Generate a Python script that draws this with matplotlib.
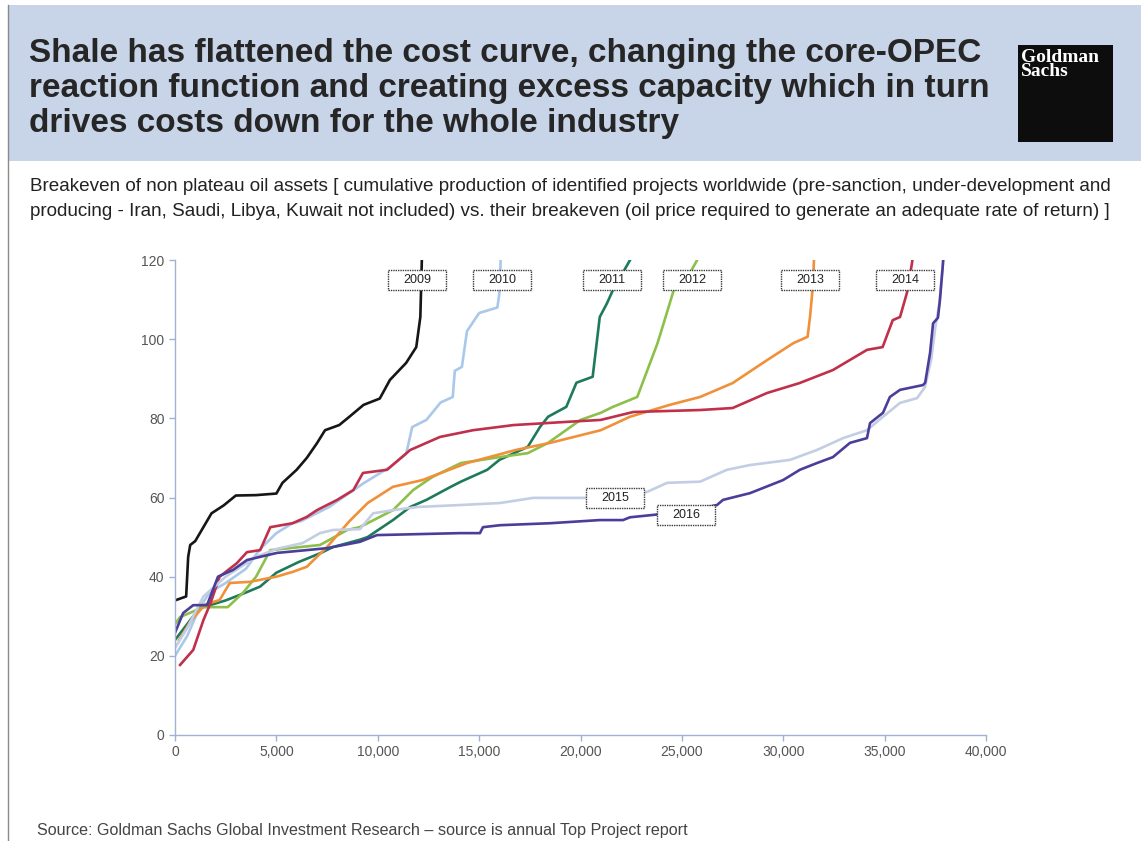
import matplotlib
matplotlib.use("Agg")
import matplotlib.pyplot as plt
from matplotlib.patches import Rectangle
from matplotlib.ticker import FuncFormatter

# cumulative production (x) vs breakeven (y)
x09 = [0, 550, 650, 750, 1000, 1400, 1800, 2400, 3000, 4000, 5000, 5300, 6000, 6500, 7000, 7400, 8100, 8600, 9300, 10100, 10600, 11400, 11900, 12100, 12150, 12200]
y09 = [34, 35, 45, 48, 49, 52.5, 56, 58, 60.5, 60.6, 61, 63.7, 67, 70, 73.7, 77, 78.3, 80.4, 83.4, 85, 89.7, 94, 98, 105.6, 115, 125]

x10 = [0, 600, 1200, 1700, 2500, 3500, 4200, 5000, 5800, 6200, 7600, 9300, 10600, 11400, 11700, 12400, 13100, 13700, 13800, 14150, 14400, 15000, 15900, 16000, 16100]
y10 = [20, 25, 32, 36, 38.4, 42, 47, 51, 53.5, 54, 57.6, 63.6, 67.7, 71, 77.8, 79.6, 84, 85.4, 92, 93, 102, 106.6, 108, 111.6, 125]

x11 = [0, 600, 1200, 2500, 3500, 4200, 5000, 6100, 7200, 7800, 9100, 9500, 10750, 11600, 12400, 13600, 14100, 15400, 16000, 17400, 18000, 18400, 19300, 19800, 20600, 20950, 21300, 21600, 23000]
y11 = [24, 28, 32, 34, 36, 37.5, 41, 43.7, 46, 47.5, 49.3, 50, 54.3, 57.6, 59.4, 62.7, 64, 67, 69.5, 72.8, 77.8, 80.4, 82.9, 89, 90.5, 105.6, 109, 112.4, 125]

x12 = [0, 250, 1400, 2600, 3350, 4000, 4700, 7150, 8500, 9100, 9800, 10750, 11750, 12700, 14100, 16000, 17400, 18400, 20000, 21000, 21600, 22800, 23300, 23800, 24100, 24600, 25100, 26300]
y12 = [28, 29.8, 32.3, 32.3, 35.9, 40, 46.7, 48, 51.8, 52.5, 54.3, 56.8, 61.9, 65.2, 68.7, 70.2, 71.2, 73.8, 79.6, 81.4, 82.9, 85.4, 92.2, 99, 104, 112.4, 114, 125]

x13 = [200, 800, 1500, 2200, 2700, 3700, 5000, 5800, 6500, 7000, 7500, 8600, 9500, 10750, 12200, 14400, 16800, 18500, 21000, 22440, 24400, 25900, 27500, 29200, 30500, 31200, 31320, 31470, 31550]
y13 = [24, 29, 33, 34.1, 38.4, 38.7, 40, 41.2, 42.5, 45, 47.5, 54, 58.6, 62.7, 64.4, 68.7, 72, 73.8, 77, 80.4, 83.4, 85.4, 88.9, 94.7, 99, 100.6, 105.6, 114, 125]

x14 = [250, 900, 1400, 1750, 2200, 3050, 3550, 4200, 4700, 5800, 6500, 7000, 8000, 8800, 9270, 10460, 11600, 13070, 14700, 16700, 19300, 21000, 22600, 25900, 27500, 29200, 30800, 32450, 34130, 34900, 35400, 35760, 36100, 36350, 36500]
y14 = [17.7, 21.5, 29, 33.3, 40, 43.4, 46.2, 46.7, 52.5, 53.5, 55.1, 56.8, 59.4, 61.9, 66.2, 67, 72, 75.3, 77, 78.3, 79.1, 79.6, 81.6, 82.1, 82.6, 86.4, 88.9, 92.2, 97.3, 98, 104.8, 105.6, 111.7, 119.2, 125]

x15 = [0, 600, 1400, 2500, 4000, 5000, 6300, 7150, 7800, 9120, 9770, 10750, 11940, 14060, 16030, 17660, 20120, 21700, 23280, 24270, 25900, 27220, 28360, 30330, 31660, 32950, 34130, 34920, 35760, 36600, 36990, 37300, 37500, 37700, 37850, 37950]
y15 = [22, 27, 35, 40, 45, 47, 48.5, 51, 51.8, 52, 56, 56.8, 57.6, 58.1, 58.6, 59.9, 59.9, 60, 61.4, 63.7, 64, 67, 68.2, 69.5, 72, 75, 77, 80.4, 83.9, 85.1, 87.9, 95, 103, 109, 118, 125]

x16 = [0, 400, 900, 1580, 2120, 2860, 3550, 4190, 5030, 7500, 9120, 9960, 14060, 15040, 15190, 16030, 18500, 20960, 22100, 22440, 23580, 25200, 26730, 27030, 28360, 29990, 30820, 31660, 32450, 33290, 34130, 34280, 34920, 35260, 35760, 36890, 37000, 37240, 37390, 37630, 37730, 37880, 37950]
y16 = [25.8, 30.8, 32.8, 32.8, 40, 41.7, 44.2, 45, 46, 47.2, 48.8, 50.5, 51, 51, 52.5, 53, 53.5, 54.3, 54.3, 55, 55.6, 56.5, 58.1, 59.4, 61.1, 64.4, 67, 68.7, 70.2, 73.8, 75, 78.8, 81.4, 85.4, 87.2, 88.4, 89, 96.5, 104, 105.4, 110, 119.2, 125]

years = ["2009", "2010", "2011", "2012", "2013", "2014", "2015", "2016"]
xs = [x09, x10, x11, x12, x13, x14, x15, x16]
ys = [y09, y10, y11, y12, y13, y14, y15, y16]
colors = ["#161616", "#a9c8ea", "#1f7a5c", "#8cc04a", "#f0913a", "#c0304a", "#c3cde3", "#4a3e9a"]

# where each year's tag box sits (data coords)
label_x = [11935, 16130, 21550, 25500, 31320, 36000, 21700, 25200]
label_y = [115, 115, 115, 115, 115, 115, 59.9, 55.6]

W, H = 1141, 841
fig = plt.figure(figsize=(W / 100, H / 100), dpi=100)
fig.patch.set_facecolor("white")

def fx(px):
    return px / W

def fy(py):
    return 1 - py / H

# header band
fig.add_artist(Rectangle((fx(9), fy(161)), fx(W - 9), fy(5) - fy(161),
                         transform=fig.transFigure, facecolor="#c8d4e7", edgecolor="none", zorder=0))
# left border line
fig.add_artist(plt.Line2D([fx(8), fx(8)], [0, fy(5)], transform=fig.transFigure, color="#8a8a8a", lw=1))

title = ("Shale has flattened the cost curve, changing the core-OPEC\n"
         "reaction function and creating excess capacity which in turn\n"
         "drives costs down for the whole industry")
fig.text(fx(29), fy(38), title, fontsize=24, fontweight="bold", family="Liberation Sans",
         color="#262626", va="top", ha="left", linespacing=1.17)

# logo
fig.add_artist(Rectangle((fx(1018), fy(142)), fx(95), fy(45) - fy(142),
                         transform=fig.transFigure, facecolor="#0d0d0d", edgecolor="none"))
fig.text(fx(1021), fy(49), "Goldman\nSachs", fontsize=14, fontweight="bold", family="Liberation Serif",
         color="white", va="top", ha="left", linespacing=0.8)

sub = ("Breakeven of non plateau oil assets [ cumulative production of identified projects worldwide (pre-sanction, under-development and\n"
       "producing - Iran, Saudi, Libya, Kuwait not included) vs. their breakeven (oil price required to generate an adequate rate of return) ]")
fig.text(fx(30), fy(178), sub, fontsize=13.6, family="Liberation Sans", color="#222222",
         va="top", ha="left", linespacing=1.6)

fig.text(fx(37), fy(830), "Source: Goldman Sachs Global Investment Research \u2013 source is annual Top Project report",
         fontsize=11.6, family="Liberation Sans", color="#444444", va="center", ha="left")

ax = fig.add_axes([fx(175), fy(735), fx(986) - fx(175), fy(260) - fy(735)])
for xv, yv, c in zip(xs, ys, colors):
    ax.plot(xv, yv, color=c, lw=1.9, solid_joinstyle="round")

# tag boxes: about 58 x 20 px
bw = 58 / 811 * 40000
bh = 20 / 475 * 120
for yr, lx, ly in zip(years, label_x, label_y):
    ax.add_patch(Rectangle((lx - bw / 2, ly - bh / 2), bw, bh, facecolor="white", edgecolor="#3a3a3a",
                           lw=1.0, linestyle=(0, (1, 0.7)), zorder=5, clip_on=False))
    ax.text(lx, ly, yr, fontsize=9, family="Liberation Sans", color="#222222", ha="center", va="center",
            zorder=6)

ax.set_xlim(0, 40000)
ax.set_ylim(0, 120)
ax.set_xticks(range(0, 40001, 5000))
ax.set_yticks(range(0, 121, 20))
ax.xaxis.set_major_formatter(FuncFormatter(lambda v, p: f"{int(v):,}"))
for s in ["top", "right"]:
    ax.spines[s].set_visible(False)
for s in ["left", "bottom"]:
    ax.spines[s].set_color("#9fb2cf")
    ax.spines[s].set_linewidth(1)
ax.tick_params(colors="#9fb2cf", labelcolor="#555555", labelsize=10, length=4, width=1)
for lab in ax.get_xticklabels() + ax.get_yticklabels():
    lab.set_family("Liberation Sans")
ax.set_facecolor("none")

fig.savefig("out.png", dpi=100)
